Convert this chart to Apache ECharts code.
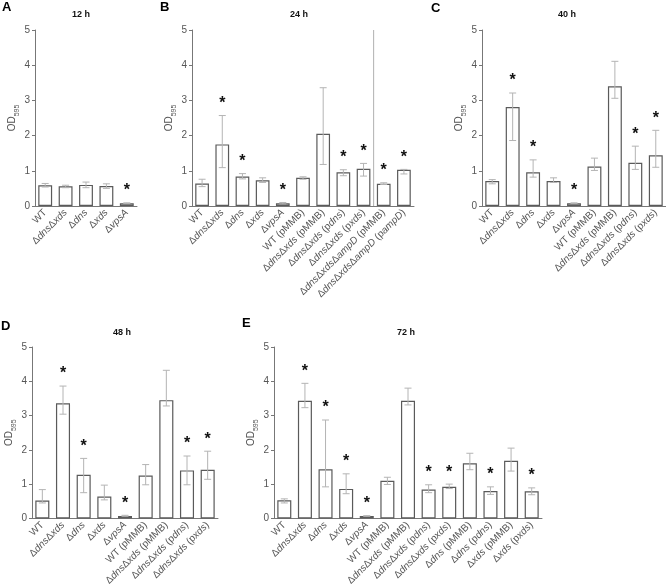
<!DOCTYPE html>
<html><head><meta charset="utf-8">
<script src="https://cdn.jsdelivr.net/npm/echarts@6/dist/echarts.min.js"></script>
<style>html,body{margin:0;padding:0;background:#fff}#c{width:666px;height:588px}</style>
</head><body><div id="c"></div><script>
// ---------- data ----------
const yTicks = [0, 1, 2, 3, 4, 5];

const catsA = ['WT', 'ΔdnsΔxds', 'Δdns', 'Δxds', 'ΔvpsA'];
const meanA = [0.59, 0.56, 0.60, 0.57, 0.08];
const hiA   = [0.64, 0.59, 0.68, 0.63, 0.09];
const loA   = [0.54, 0.52, 0.52, 0.50, 0.07];
const sigA  = [0, 0, 0, 0, 1];

const catsB = ['WT', 'ΔdnsΔxds', 'Δdns', 'Δxds', 'ΔvpsA', 'WT (pMMB)', 'ΔdnsΔxds (pMMB)', 'ΔdnsΔxds (pdns)', 'ΔdnsΔxds (pxds)', 'ΔdnsΔxdsΔampD (pMMB)', 'ΔdnsΔxdsΔampD (pampD)'];
const meanB = [0.64, 1.75, 0.84, 0.73, 0.08, 0.80, 2.05, 0.96, 1.06, 0.63, 1.03];
const hiB   = [0.76, 2.57, 0.92, 0.80, 0.10, 0.83, 3.36, 1.03, 1.21, 0.66, 1.04];
const loB   = [0.55, 1.09, 0.77, 0.67, 0.06, 0.76, 1.18, 0.86, 0.85, 0.61, 0.91];
const sigB  = [0, 1, 1, 0, 1, 0, 0, 1, 1, 1, 1];
const groupStartB = 9; // first category after the vertical separator

const catsC = ['WT', 'ΔdnsΔxds', 'Δdns', 'Δxds', 'ΔvpsA', 'WT (pMMB)', 'ΔdnsΔxds (pMMB)', 'ΔdnsΔxds (pdns)', 'ΔdnsΔxds (pxds)'];
const meanC = [0.71, 2.81, 0.96, 0.71, 0.08, 1.12, 3.40, 1.23, 1.44];
const hiC   = [0.75, 3.21, 1.31, 0.80, 0.09, 1.36, 4.11, 1.70, 2.15];
const loC   = [0.63, 1.86, 0.82, 0.67, 0.07, 1.01, 3.06, 1.04, 1.10];
const sigC  = [0, 1, 1, 0, 1, 0, 0, 1, 1];

const catsD = ['WT', 'ΔdnsΔxds', 'Δdns', 'Δxds', 'ΔvpsA', 'WT (pMMB)', 'ΔdnsΔxds (pMMB)', 'ΔdnsΔxds (pdns)', 'ΔdnsΔxds (pxds)'];
const meanD = [0.52, 3.36, 1.27, 0.64, 0.07, 1.25, 3.45, 1.40, 1.42];
const hiD   = [0.84, 3.86, 1.75, 0.97, 0.09, 1.57, 4.32, 1.82, 1.96];
const loD   = [0.45, 3.04, 0.75, 0.54, 0.06, 0.98, 3.28, 0.98, 1.14];
const sigD  = [0, 1, 1, 0, 1, 0, 0, 1, 1];

const catsE = ['WT', 'ΔdnsΔxds', 'Δdns', 'Δxds', 'ΔvpsA', 'WT (pMMB)', 'ΔdnsΔxds (pMMB)', 'ΔdnsΔxds (pdns)', 'ΔdnsΔxds (pxds)', 'Δdns (pMMB)', 'Δdns (pdns)', 'Δxds (pMMB)', 'Δxds (pxds)'];
const meanE = [0.53, 3.43, 1.43, 0.86, 0.07, 1.10, 3.43, 0.84, 0.92, 1.61, 0.80, 1.68, 0.79];
const hiE   = [0.57, 3.94, 2.87, 1.30, 0.08, 1.20, 3.80, 0.98, 1.00, 1.90, 0.92, 2.05, 0.89];
const loE   = [0.45, 3.23, 0.92, 0.72, 0.06, 0.99, 3.31, 0.75, 0.87, 1.42, 0.70, 1.38, 0.69];
const sigE  = [0, 1, 1, 1, 1, 0, 0, 1, 1, 0, 1, 0, 1];

// ---------- layout ----------
const FONT = 'Liberation Sans, Arial, Helvetica, sans-serif';
const panels = [
  {letter: 'A', title: '12 h', cats: catsA, mean: meanA, hi: hiA, lo: loA, sig: sigA,
   grid: {left: 35, top: 30, width: 102, height: 176}, lx: 2, ly: 1, tx: 81, ty: 10, sep: null},
  {letter: 'B', title: '24 h', cats: catsB, mean: meanB, hi: hiB, lo: loB, sig: sigB,
   grid: {left: 192, top: 30, width: 222, height: 176}, lx: 160, ly: 1, tx: 299, ty: 10, sep: groupStartB},
  {letter: 'C', title: '40 h', cats: catsC, mean: meanC, hi: hiC, lo: loC, sig: sigC,
   grid: {left: 482, top: 30, width: 184, height: 176}, lx: 431, ly: 2, tx: 567, ty: 10, sep: null},
  {letter: 'D', title: '48 h', cats: catsD, mean: meanD, hi: hiD, lo: loD, sig: sigD,
   grid: {left: 32, top: 347, width: 186, height: 178}, lx: 1, ly: 320, tx: 122, ty: 328, sep: null},
  {letter: 'E', title: '72 h', cats: catsE, mean: meanE, hi: hiE, lo: loE, sig: sigE,
   grid: {left: 274, top: 347, width: 268, height: 178}, lx: 242, ly: 317, tx: 406, ty: 328, sep: null}
];

function fmtLabel(s) {
  return s.replace(/(dns|xds|vpsA|ampD)/g, '{i|$1}');
}

function errRender(params, api) {
  const x = api.value(0), lo = api.value(1), hi = api.value(2);
  const pHi = api.coord([x, hi]);
  const pLo = api.coord([x, lo]);
  const hw = 3.5;
  const st = {stroke: '#b4b4b4', lineWidth: 1};
  return {type: 'group', children: [
    {type: 'line', shape: {x1: pHi[0], y1: pHi[1], x2: pLo[0], y2: pLo[1]}, style: st},
    {type: 'line', shape: {x1: pHi[0] - hw, y1: pHi[1], x2: pHi[0] + hw, y2: pHi[1]}, style: st},
    {type: 'line', shape: {x1: pLo[0] - hw, y1: pLo[1], x2: pLo[0] + hw, y2: pLo[1]}, style: st}
  ]};
}

function starRender(params, api) {
  const p = api.coord([api.value(0), api.value(1)]);
  return {type: 'text', x: p[0], y: p[1] - 12, style: {
    text: '*', fontSize: 16, fontWeight: 'bold', fontFamily: FONT, fill: '#111',
    align: 'center', verticalAlign: 'middle'}};
}

function sepRender(params, api) {
  const idx = api.value(0);
  const half = api.size([1, 0])[0] / 2;
  const top = api.coord([idx, yTicks[yTicks.length - 1]]);
  const bot = api.coord([idx, yTicks[0]]);
  const x = top[0] - half;
  return {type: 'line', shape: {x1: x, y1: top[1], x2: x, y2: bot[1]},
    style: {stroke: '#b0b0b0', lineWidth: 1}};
}

const grids = [], xAxes = [], yAxes = [], series = [], graphics = [];
panels.forEach((p, k) => {
  grids.push(Object.assign({containLabel: false}, p.grid));
  xAxes.push({
    type: 'category', gridIndex: k, data: p.cats,
    axisLine: {lineStyle: {color: '#777', width: 1}},
    axisTick: {alignWithLabel: true, length: 3, lineStyle: {color: '#777'}},
    axisLabel: {rotate: 45, interval: 0, margin: 5, fontSize: 10, color: '#555', fontFamily: FONT,
      formatter: fmtLabel,
      rich: {i: {fontStyle: 'italic', fontSize: 10, color: '#555', fontFamily: FONT}}},
    splitLine: {show: false}
  });
  yAxes.push({
    type: 'value', gridIndex: k, min: yTicks[0], max: yTicks[yTicks.length - 1], interval: 1,
    axisLine: {show: true, lineStyle: {color: '#777', width: 1}},
    axisTick: {show: true, length: 3, lineStyle: {color: '#777'}},
    axisLabel: {fontSize: 10, color: '#555', margin: 5, fontFamily: FONT},
    splitLine: {show: false},
    name: '{a|OD}{b|595}', nameLocation: 'middle', nameGap: 17, nameRotate: 90,
    nameTextStyle: {rich: {
      a: {fontSize: 10, color: '#555', fontFamily: FONT, verticalAlign: 'bottom', lineHeight: 12},
      b: {fontSize: 7, color: '#555', fontFamily: FONT, verticalAlign: 'bottom', lineHeight: 12, padding: [0, 0, -3, 0]}
    }}
  });
  series.push({
    type: 'bar', xAxisIndex: k, yAxisIndex: k, data: p.mean, barCategoryGap: '32%',
    itemStyle: {color: '#fff', borderColor: '#5a5a5a', borderWidth: 1.2}, silent: true, z: 2
  });
  series.push({
    type: 'custom', xAxisIndex: k, yAxisIndex: k, renderItem: errRender, z: 3, silent: true,
    data: p.mean.map((m, i) => [i, p.lo[i], p.hi[i]])
  });
  series.push({
    type: 'custom', xAxisIndex: k, yAxisIndex: k, renderItem: starRender, z: 4, silent: true,
    data: p.sig.map((s, i) => s ? [i, p.hi[i]] : null).filter(d => d)
  });
  if (p.sep !== null) {
    series.push({
      type: 'custom', xAxisIndex: k, yAxisIndex: k, renderItem: sepRender, z: 1, silent: true,
      data: [[p.sep]]
    });
  }
  graphics.push({type: 'text', x: p.lx, y: p.ly, style: {text: p.letter, fontSize: 13, fontWeight: 'bold', fill: '#000', fontFamily: FONT}});
  graphics.push({type: 'text', x: p.tx, y: p.ty, style: {text: p.title, fontSize: 9, fontWeight: 'bold', fill: '#111', fontFamily: FONT, align: 'center'}});
});

const chart = echarts.init(document.getElementById('c'), null, {renderer: 'canvas'});
chart.setOption({
  animation: false,
  backgroundColor: '#fff',
  textStyle: {fontFamily: FONT},
  grid: grids, xAxis: xAxes, yAxis: yAxes, series: series, graphic: graphics
});
</script></body></html>
